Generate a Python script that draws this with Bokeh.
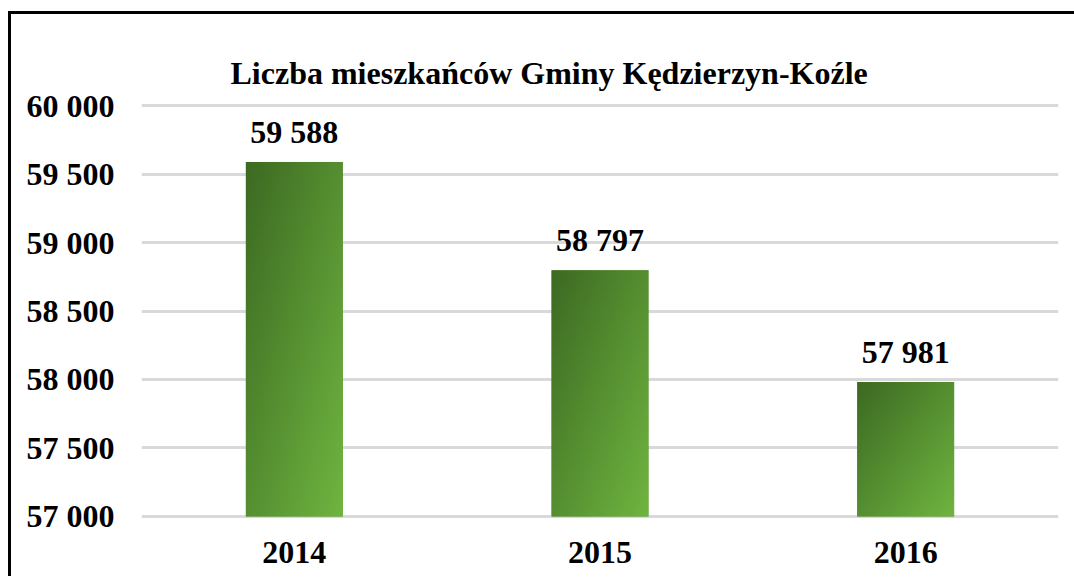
import numpy as np
from bokeh.plotting import figure
from bokeh.models import FixedTicker, ColumnDataSource, LabelSet, Range1d
from bokeh.core.properties import value
from bokeh.embed import file_html
from bokeh.resources import INLINE

title_text = "Liczba mieszkańców Gminy Kędzierzyn-Koźle"
years = ["2014", "2015", "2016"]
population = [59588, 58797, 57981]
y_ticks = [57000, 57500, 58000, 58500, 59000, 59500, 60000]
y_tick_labels = ["57 000", "57 500", "58 000", "58 500", "59 000", "59 500", "60 000"]

FONT = "Liberation Serif"
FS = "32px"
base = y_ticks[0]
bar_w = 0.317
xs = [i + 0.5 for i in range(len(years))]
labels = [f"{v:,}".replace(",", " ") for v in population]

src = ColumnDataSource(dict(
    x=xs, top=population, label=labels,
    left=[x - bar_w / 2 for x in xs],
    h=[v - base for v in population],
))

p = figure(width=1066, height=565, output_backend="svg", toolbar_location=None,
           x_range=Range1d(0, len(years)), y_range=Range1d(56985, 60015),
           min_border_left=130, min_border_right=19, min_border_top=89, min_border_bottom=61)
p.styles = {"border-top": "3px solid black", "border-left": "3px solid black",
            "border-right": "none", "border-bottom": "none", "outline": "none",
            "box-shadow": "none", "overflow": "hidden",
            "margin-top": "11px", "margin-left": "8px"}
p.outline_line_color = None
p.background_fill_color = "white"
p.border_fill_color = "white"

p.title.text = title_text
p.title.text_font = FONT
p.title.text_font_size = FS
p.title.text_font_style = "bold"
p.title.text_color = "black"
p.title.align = "left"
p.title.offset = 89
p.title.standoff = 26
p.title.text_line_height = 0.9

# bars (solid base + diagonal gradient overlay)
p.vbar(x="x", top="top", bottom=base, width=bar_w, source=src,
       fill_color="#589235", line_color=None)

N = 160
u = np.linspace(0, 1, N)[None, :]
v = np.linspace(0, 1, N)[:, None]
t = (u + (1 - v)) / 2
dark = np.array([60, 106, 34], dtype=float)
light = np.array([112, 181, 64], dtype=float)
rgb = dark[None, None, :] + (light - dark)[None, None, :] * t[..., None]
img = np.zeros((N, N), dtype=np.uint32)
view = img.view(dtype=np.uint8).reshape((N, N, 4))
view[..., 0] = rgb[..., 0]
view[..., 1] = rgb[..., 1]
view[..., 2] = rgb[..., 2]
view[..., 3] = 255
src.data["img"] = [img] * len(years)
p.image_rgba(image="img", x="left", y=base, dw=bar_w, dh="h", source=src)

p.add_layout(LabelSet(x="x", y="top", text="label", source=src, y_offset=19,
                      text_align="center", text_baseline="alphabetic",
                      text_font=value(FONT), text_font_size=FS,
                      text_font_style="bold", text_color="black"))

p.yaxis.ticker = FixedTicker(ticks=y_ticks)
p.yaxis.major_label_overrides = {t_: l for t_, l in zip(y_ticks, y_tick_labels)}
p.xaxis.ticker = FixedTicker(ticks=xs)
p.xaxis.major_label_overrides = {x: y for x, y in zip(xs, years)}
for ax in (p.xaxis, p.yaxis):
    ax.axis_line_color = None
    ax.major_tick_line_color = None
    ax.minor_tick_line_color = None
    ax.major_tick_in = 0
    ax.major_tick_out = 0
    ax.major_label_text_font = FONT
    ax.major_label_text_font_size = FS
    ax.major_label_text_font_style = "bold"
    ax.major_label_text_color = "black"
p.yaxis.major_label_standoff = 27
p.xaxis.major_label_standoff = 23

p.xgrid.grid_line_color = None
p.ygrid.grid_line_color = "#d9d9d9"
p.ygrid.grid_line_width = 3

open("out.html", "w").write(file_html(p, INLINE))
